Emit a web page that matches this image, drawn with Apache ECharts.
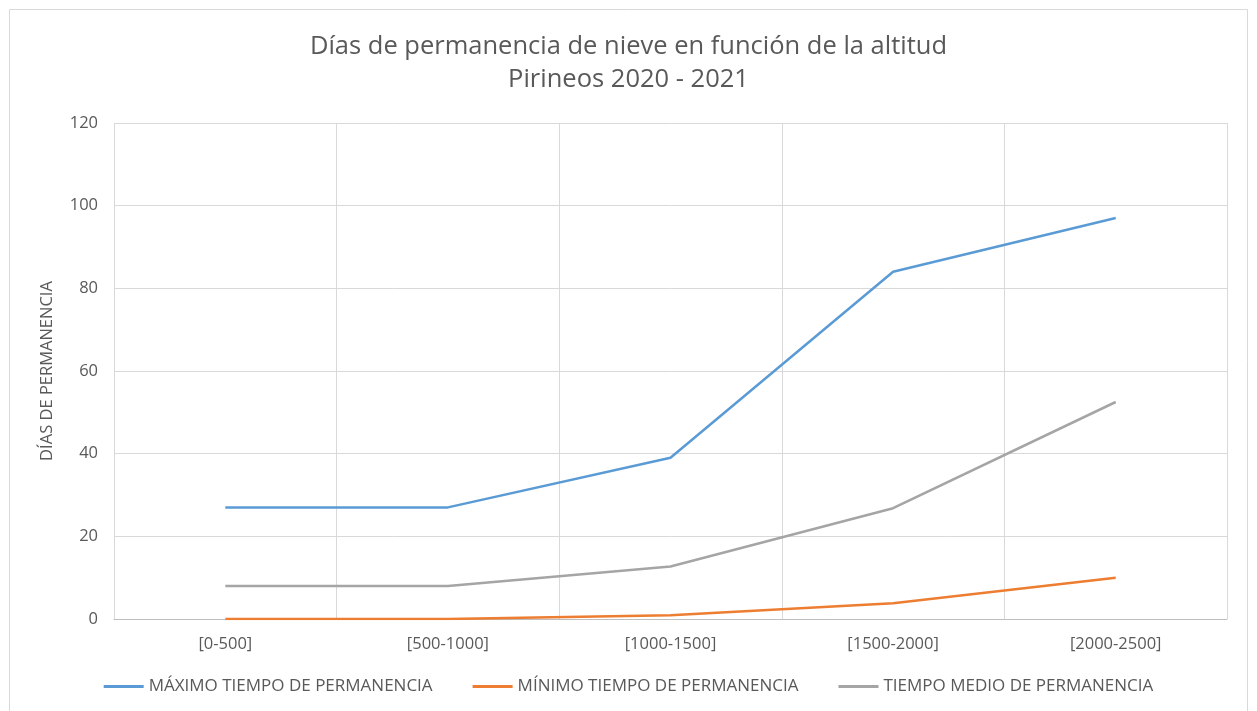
<!DOCTYPE html>
<html>
<head>
<meta charset="utf-8">
<script src="https://cdn.jsdelivr.net/npm/echarts@6/dist/echarts.min.js"></script>
<style>
  html, body { margin: 0; padding: 0; background: #fff; }
  #mains { width: 1257px; height: 711px; }
</style>
</head>
<body>
<div id="mains"></div>
<script>
// datos
var categorias = ['[0-500]', '[500-1000]', '[1000-1500]', '[1500-2000]', '[2000-2500]'];
var maximo = [27, 27, 39, 84, 97];
var minimo = [0, 0, 0.9, 3.8, 10];
var medio = [8, 8, 12.7, 26.8, 52.5];
var nombres = ['MÁXIMO TIEMPO DE PERMANENCIA', 'MÍNIMO TIEMPO DE PERMANENCIA', 'TIEMPO MEDIO DE PERMANENCIA'];

var fuente = '"Open Sans", "Noto Sans", sans-serif';
var gris = '#595959';

var myChart = echarts.init(document.getElementById('mains'));
myChart.setOption({
    animation: false,
    textStyle: { fontFamily: fuente },
    title: {
        text: 'Días de permanencia de nieve en función de la altitud\nPirineos 2020 - 2021',
        left: 'center',
        top: 25,
        textStyle: { fontSize: 25.5, fontWeight: 'normal', color: gris, lineHeight: 33, fontFamily: fuente }
    },
    graphic: [{
        type: 'rect',
        shape: { x: 9.5, y: 9.5, width: 1238, height: 720 },
        style: { fill: 'none', stroke: '#d9d9d9', lineWidth: 1 },
        silent: true
    }],
    legend: {
        bottom: 11,
        left: 'center',
        itemWidth: 40,
        itemHeight: 3,
        itemGap: 40,
        icon: 'rect',
        textStyle: { fontSize: 17, color: gris, fontFamily: fuente },
        data: nombres
    },
    grid: { left: 114, right: 30, top: 123, bottom: 92 },
    xAxis: {
        type: 'category',
        data: categorias,
        boundaryGap: true,
        axisLine: { lineStyle: { color: '#bfbfbf', width: 1 } },
        axisTick: { show: false },
        axisLabel: { fontSize: 16.5, color: gris, margin: 17 },
        splitLine: { show: true, lineStyle: { color: '#d9d9d9', width: 1 } }
    },
    yAxis: {
        type: 'value',
        min: 0,
        max: 120,
        interval: 20,
        name: 'DÍAS DE PERMANENCIA',
        nameLocation: 'middle',
        nameGap: 58,
        nameRotate: 90,
        nameTextStyle: { fontSize: 16.5, color: gris },
        axisLine: { show: false },
        axisTick: { show: false },
        axisLabel: { fontSize: 16.5, color: gris, margin: 16 },
        splitLine: { lineStyle: { color: '#d9d9d9', width: 1 } }
    },
    series: [
        { name: nombres[0], type: 'line', data: maximo, symbol: 'none',
          lineStyle: { width: 2.5, color: '#5B9BD5' }, itemStyle: { color: '#5B9BD5' } },
        { name: nombres[1], type: 'line', data: minimo, symbol: 'none',
          lineStyle: { width: 2.5, color: '#ED7D31' }, itemStyle: { color: '#ED7D31' } },
        { name: nombres[2], type: 'line', data: medio, symbol: 'none',
          lineStyle: { width: 2.5, color: '#A5A5A5' }, itemStyle: { color: '#A5A5A5' } }
    ]
});
</script>
</body>
</html>
